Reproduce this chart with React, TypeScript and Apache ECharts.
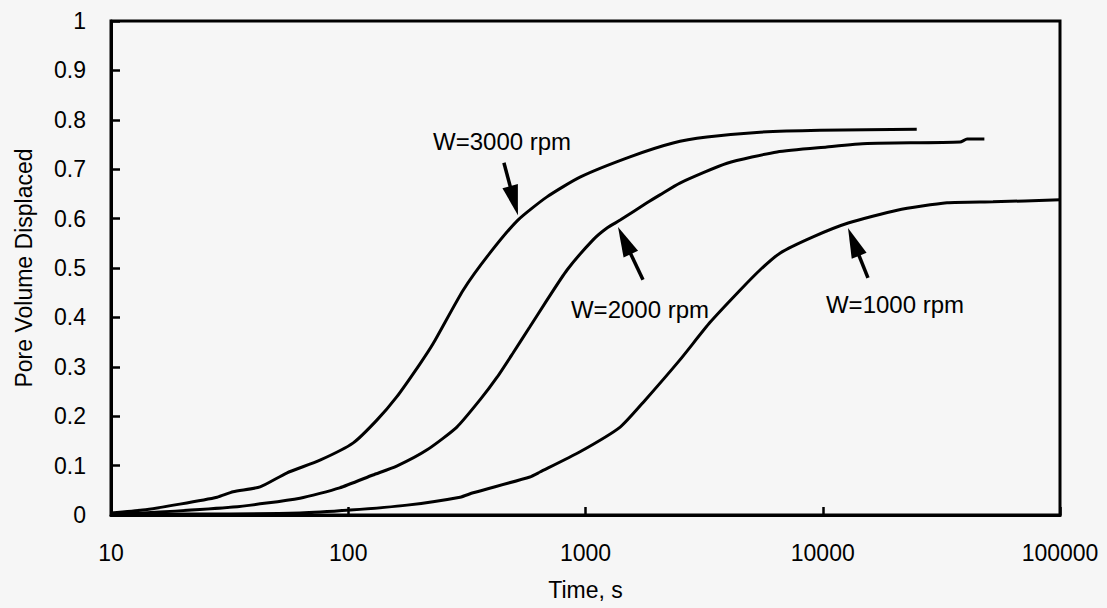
import React, { useEffect, useRef } from "react";
import * as echarts from "echarts";

// Pore volume displaced vs. time for three rotor speeds, [time (s), fraction]
const rpm3000: [number, number][] = [
  [10, 0.004], [13.6, 0.01], [19.5, 0.022], [28, 0.036], [32.7, 0.047],
  [42.5, 0.057], [55, 0.085], [76, 0.111], [105, 0.146], [132, 0.192],
  [160, 0.239], [200, 0.305], [228, 0.347], [305, 0.455],
  [395, 0.53], [519, 0.597], [688, 0.644], [948, 0.684], [1540, 0.725],
  [2340, 0.753], [3250, 0.765], [5440, 0.775], [9730, 0.779], [24900, 0.781],
];

const rpm2000: [number, number][] = [
  [10, 0.002], [13.6, 0.004], [32.7, 0.016], [62.6, 0.034], [92, 0.055],
  [127, 0.081], [160, 0.099], [215, 0.132], [287, 0.178], [359, 0.233],
  [424, 0.279], [495, 0.328], [583, 0.381], [688, 0.435], [836, 0.496],
  [1076, 0.557], [1232, 0.581], [1400, 0.597], [1816, 0.632], [2060, 0.648],
  [2500, 0.672], [3950, 0.712], [6420, 0.735], [10400, 0.745], [15400, 0.752],
  [37900, 0.755], [40600, 0.761], [48000, 0.761],
];

const rpm1000: [number, number][] = [
  [10, 0.002], [23.7, 0.002], [62.6, 0.004], [102, 0.01], [177, 0.02],
  [296, 0.036], [336, 0.045], [583, 0.077], [643, 0.087], [948, 0.128],
  [1400, 0.178], [1780, 0.232], [2500, 0.314], [3350, 0.39], [4480, 0.455],
  [5440, 0.496], [6600, 0.53], [9100, 0.563], [12800, 0.591], [20600, 0.617],
  [33400, 0.632], [52200, 0.634], [100000, 0.638],
];

// Callouts: label centre, arrow tail and arrow tip, all in data coordinates
const callouts = [
  { text: "W=3000 rpm", label: [445, 0.757], tail: [453, 0.713], tip: [519, 0.607] },
  { text: "W=2000 rpm", label: [1697, 0.415], tail: [1747, 0.476], tip: [1371, 0.583] },
  { text: "W=1000 rpm", label: [20160, 0.427], tail: [15510, 0.48], tip: [12780, 0.581] },
];

const FONT = '"Liberation Sans", Arial, Helvetica, sans-serif';

export default function App() {
  const ref = useRef<HTMLDivElement>(null);

  useEffect(() => {
    if (!ref.current) return;
    const chart = echarts.init(ref.current, undefined, { renderer: "svg" });

    const curve = (name: string, data: [number, number][]) => ({
      name,
      type: "line",
      data,
      showSymbol: false,
      symbol: "none",
      smooth: 0.2,
      lineStyle: { color: "#000", width: 3 },
      z: 3,
    });

    chart.setOption({
      animation: false,
      backgroundColor: "#f6f6f6",
      grid: {
        left: 111,
        right: 47,
        top: 21,
        bottom: 93,
        show: true,
        borderColor: "#000",
        borderWidth: 3,
      },
      xAxis: {
        type: "log",
        logBase: 10,
        min: 10,
        max: 100000,
        name: "Time, s",
        nameLocation: "middle",
        nameGap: 63,
        nameTextStyle: { color: "#000", fontSize: 23, fontFamily: FONT },
        axisLine: { show: true, lineStyle: { color: "#000", width: 3 } },
        axisTick: { show: true, inside: true, length: 8, lineStyle: { color: "#000", width: 2.5 } },
        minorTick: { show: false },
        splitLine: { show: false },
        axisLabel: {
          margin: 26,
          color: "#000",
          fontSize: 23,
          fontFamily: FONT,
          formatter: (v: number) => String(Math.round(v)),
        },
      },
      yAxis: {
        type: "value",
        min: 0,
        max: 1,
        interval: 0.1,
        name: "Pore Volume Displaced",
        nameLocation: "middle",
        nameRotate: 90,
        nameGap: 76,
        nameTextStyle: { color: "#000", fontSize: 23, fontFamily: FONT },
        axisLine: { show: true, lineStyle: { color: "#000", width: 3 } },
        axisTick: { show: true, inside: true, length: 9, lineStyle: { color: "#000", width: 2.5 } },
        splitLine: { show: false },
        axisLabel: {
          margin: 25,
          color: "#000",
          fontSize: 23,
          fontFamily: FONT,
          formatter: (v: number) => String(Math.round(v * 10) / 10),
        },
      },
      series: [
        curve("W=3000 rpm", rpm3000),
        curve("W=2000 rpm", rpm2000),
        curve("W=1000 rpm", rpm1000),
      ],
    });

    // Arrows and their labels, placed through the axes' own scales
    const toPx = (p: number[]) => chart.convertToPixel({ gridIndex: 0 }, p) as number[];
    const graphics: any[] = [];
    callouts.forEach((c) => {
      const [lx, ly] = toPx(c.label);
      const [tx, ty] = toPx(c.tail);
      const [hx, hy] = toPx(c.tip);
      const dx = hx - tx;
      const dy = hy - ty;
      const len = Math.hypot(dx, dy) || 1;
      const ux = dx / len;
      const uy = dy / len;
      const headLen = 30;
      const halfW = 8;
      const bx = hx - ux * headLen;
      const by = hy - uy * headLen;
      graphics.push(
        {
          type: "line",
          shape: { x1: tx, y1: ty, x2: bx + ux * 2, y2: by + uy * 2 },
          style: { stroke: "#000", lineWidth: 3.5 },
          z: 10,
        },
        {
          type: "polygon",
          shape: {
            points: [
              [hx, hy],
              [bx - uy * halfW, by + ux * halfW],
              [bx + uy * halfW, by - ux * halfW],
            ],
          },
          style: { fill: "#000" },
          z: 10,
        },
        {
          type: "text",
          x: lx,
          y: ly,
          style: {
            text: c.text,
            fill: "#000",
            fontSize: 24,
            fontFamily: FONT,
            align: "center",
            verticalAlign: "middle",
          },
          z: 10,
        }
      );
    });
    chart.setOption({ graphic: graphics });

    return () => chart.dispose();
  }, []);

  return (
    <div
      ref={ref}
      style={{ position: "fixed", left: 0, top: 0, width: 1107, height: 608 }}
    />
  );
}
